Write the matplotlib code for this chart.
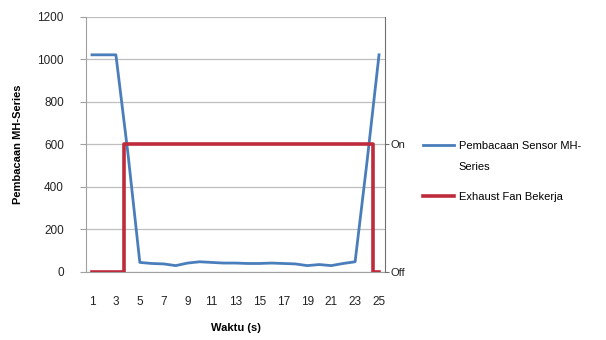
import matplotlib
matplotlib.use("Agg")
import matplotlib.pyplot as plt
from matplotlib.lines import Line2D

plt.rcParams['font.family'] = ['Liberation Sans', 'DejaVu Sans']

waktu = list(range(1, 26))
sensor = [1020, 1020, 1020, 560, 45, 40, 38, 30, 42, 48, 45, 42, 42, 40, 40,
          42, 40, 38, 30, 35, 30, 40, 48, 520, 1020]
fan_x = [1, 3.7, 3.7, 24.5, 24.5, 25]
fan_state = [0, 0, 1, 1, 0, 0]
x_ticks = list(range(1, 26, 2))
y_ticks = [0, 200, 400, 600, 800, 1000, 1200]
fan_labels = ["Off", "On"]
legend_labels = ["Pembacaan Sensor MH-", "Exhaust Fan Bekerja"]
legend_wrap = "Series"

blue = "#4A7EBB"
red = "#BE2B3C"
grid_c = "#BFBFBF"

fig = plt.figure(figsize=(6.06, 3.40), dpi=100)
ax = fig.add_axes([86/606, 1-272/340, (385-86)/606, (272-16.5)/340])

ax.plot(waktu, sensor, color=blue, lw=2.0, zorder=3)
ax.set_xlim(0.5, 25.5)
ax.set_ylim(0, 1200)
ax.set_yticks(y_ticks)
ax.set_xticks(x_ticks)
ax.grid(axis='y', color=grid_c, lw=0.9)
ax.set_axisbelow(True)
for s in ['top', 'right']:
    ax.spines[s].set_visible(False)
ax.spines['left'].set_color('#A0A0A0')
ax.spines['bottom'].set_color('#A0A0A0')
ax.tick_params(axis='y', length=4, color='#A0A0A0', labelsize=8.5, pad=12, labelcolor='#222222')
ax.tick_params(axis='x', length=0, labelsize=8.5, pad=17, labelcolor='#222222')
ax.set_ylabel("Pembacaan MH-Series", fontsize=8, fontweight='bold', labelpad=10)
ax.set_xlabel("Waktu (s)", fontsize=8, fontweight='bold', labelpad=11)

ax2 = ax.twinx()
ax2.plot(fan_x, fan_state, color=red, lw=2.6, zorder=4)
ax2.set_ylim(0, 2)
ax2.set_yticks([0, 1])
ax2.set_yticklabels(fan_labels)
for s in ['top', 'left', 'bottom']:
    ax2.spines[s].set_visible(False)
ax2.spines['right'].set_color('#707070')
ax2.tick_params(axis='y', length=3, color='#707070', labelsize=8, pad=1, labelcolor='#222222')

handles = [Line2D([], [], color=blue, lw=2), Line2D([], [], color=red, lw=2.6)]
leg = fig.legend(handles, legend_labels,
                 loc='upper left', bbox_to_anchor=(413/606, 1-131/340), frameon=False,
                 fontsize=8, handlelength=2.8, handletextpad=0.4, labelspacing=3.65)

fig.canvas.draw()
bb = leg.get_texts()[0].get_window_extent()
fig.text(bb.x0 / fig.bbox.width, (bb.y0 - 21) / fig.bbox.height, legend_wrap,
         fontsize=8, ha='left', va='bottom', color='black')

fig.savefig("out.png", dpi=100)
